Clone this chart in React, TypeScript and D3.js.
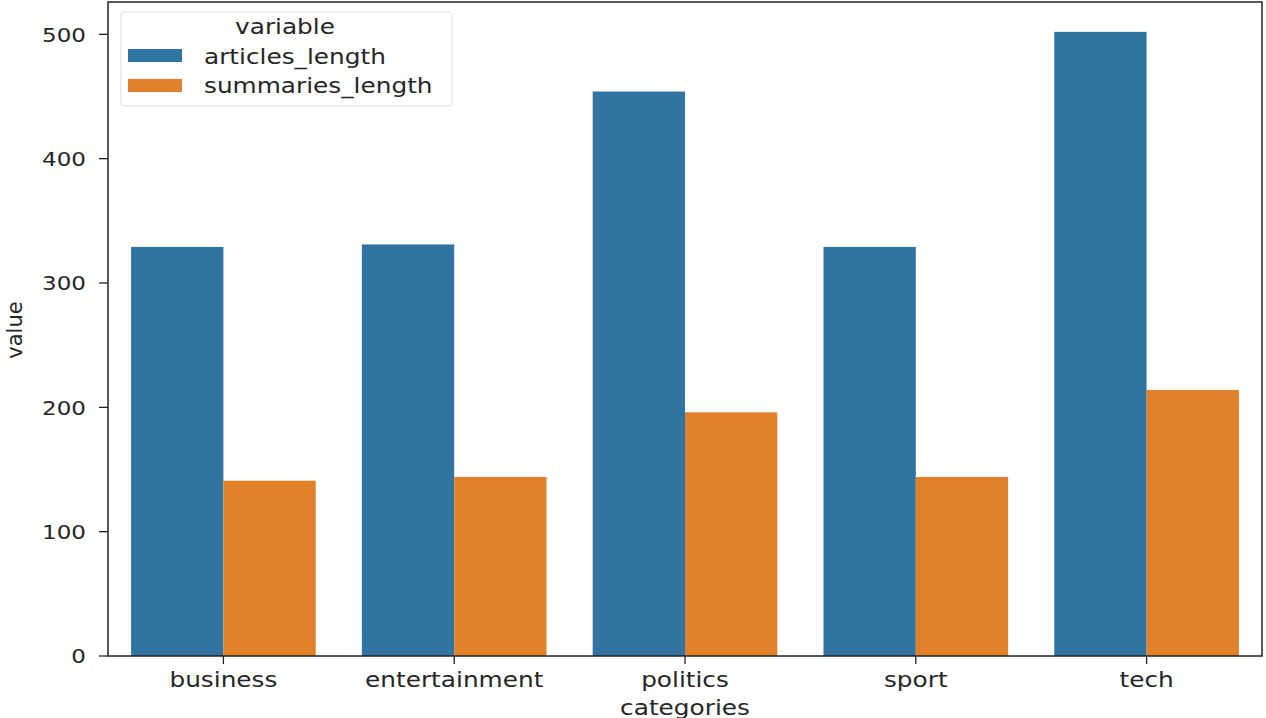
import React from "react";
import * as d3 from "d3";

const categories = ["business", "entertainment", "politics", "sport", "tech"];
const seriesNames = ["articles_length", "summaries_length"];
const articlesLength = [329, 331, 454, 329, 502];
const summariesLength = [141, 144, 196, 144, 214];
const yTicks = [0, 100, 200, 300, 400, 500];
const colors = ["#3274a1", "#e1812c"];

export default function App() {
  const W = 1266, H = 718;
  const left = 108, right = 1262, top = 2, bottom = 656;
  const x = d3.scaleBand<string>().domain(categories).range([left, right]).paddingInner(0).paddingOuter(0);
  const inner = d3.scaleBand<string>().domain(seriesNames).range([0, x.bandwidth()]).paddingInner(0).paddingOuter(0.25);
  const y = d3.scaleLinear().domain([0, 526]).range([bottom, top]);
  const series = [articlesLength, summariesLength];
  const font = "DejaVu Sans, sans-serif";
  const sx = 1.18;
  return (
    <svg width={W} height={H} style={{ position: "absolute", left: 0, top: 0, background: "#fff" }}>
      {series.map((vals, si) =>
        categories.map((c, i) => (
          <rect key={`${si}-${c}`} x={(x(c) as number) + (inner(seriesNames[si]) as number)} y={y(vals[i])}
            width={inner.bandwidth()} height={y(0) - y(vals[i])} fill={colors[si]} />
        ))
      )}
      <rect x={left} y={top} width={right - left} height={bottom - top} fill="none" stroke="#222" strokeWidth={1.5} />
      {yTicks.map(t => (
        <g key={t}>
          <line x1={left - 9} x2={left} y1={y(t)} y2={y(t)} stroke="#222" strokeWidth={1.3} />
          <text transform={`translate(${left - 22},${y(t)}) scale(1.15,1)`} dy="0.36em" textAnchor="end" fontFamily={font} fontSize={20} fill="#262626">{t}</text>
        </g>
      ))}
      {categories.map(c => {
        const cx = (x(c) as number) + x.bandwidth() / 2;
        return (
          <g key={c}>
            <line x1={cx} x2={cx} y1={bottom} y2={bottom + 8} stroke="#222" strokeWidth={1.3} />
            <text transform={`translate(${cx},${bottom + 31}) scale(${sx},1)`} textAnchor="middle" fontFamily={font} fontSize={21} fill="#262626">{c}</text>
          </g>
        );
      })}
      <text transform={`translate(${(left + right) / 2},${bottom + 59}) scale(${sx},1)`} textAnchor="middle" fontFamily={font} fontSize={21} fill="#262626">categories</text>
      <text transform={`translate(22,${330}) rotate(-90)`} textAnchor="middle" fontFamily={font} fontSize={21} fill="#262626">value</text>
      <g>
        <rect x={121} y={12} width={331} height={94} rx={3} fill="#fff" fillOpacity={0.85} stroke="#ddd" strokeWidth={1} />
        <text transform={`translate(285,34) scale(${sx},1)`} textAnchor="middle" fontFamily={font} fontSize={21} fill="#262626">variable</text>
        {seriesNames.map((s, i) => (
          <g key={s}>
            <rect x={128} y={49 + i * 30} width={54} height={13} fill={colors[i]} />
            <text transform={`translate(204,${64 + i * 29}) scale(${sx},1)`} fontFamily={font} fontSize={21} fill="#262626">{s}</text>
          </g>
        ))}
      </g>
    </svg>
  );
}
